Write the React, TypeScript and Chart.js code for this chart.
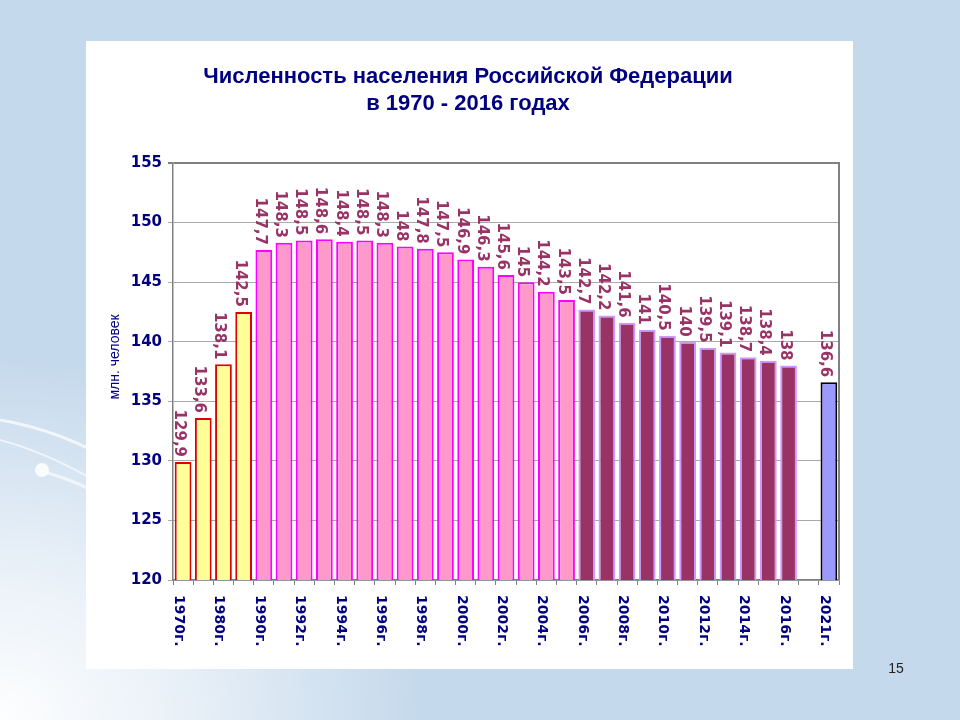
import React, { useEffect, useRef } from 'react';
import { Chart, registerables } from 'chart.js';

Chart.register(...registerables);

// ---- Data ----
const categories = [
  '1970г.', '1975г.', '1980г.', '1985г.',
  '1990г.', '1991г.', '1992г.', '1993г.', '1994г.', '1995г.', '1996г.', '1997г.',
  '1998г.', '1999г.', '2000г.', '2001г.', '2002г.', '2003г.', '2004г.', '2005г.',
  '2006г.', '2007г.', '2008г.', '2009г.', '2010г.', '2011г.', '2012г.', '2013г.',
  '2014г.', '2015г.', '2016г.', '', '2021г.',
];

const tickLabels = [
  '1970г.', '', '1980г.', '',
  '1990г.', '', '1992г.', '', '1994г.', '', '1996г.', '',
  '1998г.', '', '2000г.', '', '2002г.', '', '2004г.', '',
  '2006г.', '', '2008г.', '', '2010г.', '', '2012г.', '',
  '2014г.', '', '2016г.', '', '2021г.',
];

const population: (number | null)[] = [
  129.9, 133.6, 138.1, 142.5,
  147.7, 148.3, 148.5, 148.6, 148.4, 148.5, 148.3, 148.0,
  147.8, 147.5, 146.9, 146.3, 145.6, 145.0, 144.2, 143.5,
  142.7, 142.2, 141.6, 141.0, 140.5, 140.0, 139.5, 139.1,
  138.7, 138.4, 138.0, null, 136.6,
];

const periodGroup = [
  'soviet', 'soviet', 'soviet', 'soviet',
  'nineties', 'nineties', 'nineties', 'nineties', 'nineties', 'nineties', 'nineties', 'nineties',
  'nineties', 'nineties', 'nineties', 'nineties', 'nineties', 'nineties', 'nineties', 'nineties',
  'recent', 'recent', 'recent', 'recent', 'recent', 'recent', 'recent', 'recent',
  'recent', 'recent', 'recent', 'none', 'forecast',
];

const titleLines = ['Численность населения Российской Федерации', 'в 1970 - 2016 годах'];
const yAxisTitle = 'млн. человек';
const yMin = 120;
const yMax = 155;
const yStep = 5;

const groupFill: Record<string, string> = {
  soviet: '#FFFF99',
  nineties: '#FF99CC',
  recent: '#993366',
  forecast: '#9999FF',
  none: 'rgba(0,0,0,0)',
};
const groupBorder: Record<string, string> = {
  soviet: '#E00000',
  nineties: '#FF00FF',
  recent: '#CC99FF',
  forecast: '#000000',
  none: 'rgba(0,0,0,0)',
};

const fmt = (v: number) => (Number.isInteger(v) ? String(v) : v.toFixed(1).replace('.', ','));

const decorPlugin = {
  id: 'decor',
  afterDatasetsDraw(chart: any) {
    const ctx = chart.ctx as CanvasRenderingContext2D;
    const meta = chart.getDatasetMeta(0);
    ctx.save();
    ctx.font = 'bold 15px "DejaVu Sans"';
    ctx.fillStyle = '#993366';
    ctx.textAlign = 'right';
    ctx.textBaseline = 'alphabetic';
    meta.data.forEach((bar: any, i: number) => {
      const v = population[i];
      if (v == null) return;
      ctx.save();
      ctx.translate(bar.x, bar.y - 5);
      ctx.rotate(Math.PI / 2);
      ctx.fillText(fmt(v), 0, 8);
      ctx.restore();
    });
    ctx.restore();
  },
  afterDraw(chart: any) {
    const ctx = chart.ctx as CanvasRenderingContext2D;
    const area = chart.chartArea;
    const xScale = chart.scales.x;
    ctx.save();
    // right border of plot
    ctx.strokeStyle = '#808080';
    ctx.lineWidth = 2;
    ctx.beginPath();
    ctx.moveTo(area.right, area.top - 1);
    ctx.lineTo(area.right, area.bottom);
    ctx.stroke();

    // x tick labels, rotated clockwise
    ctx.font = 'bold 14px "DejaVu Sans"';
    ctx.fillStyle = '#000080';
    ctx.textAlign = 'left';
    ctx.textBaseline = 'alphabetic';
    tickLabels.forEach((lab, i) => {
      if (!lab) return;
      const x = xScale.getPixelForValue(i);
      ctx.save();
      ctx.translate(x, area.bottom + 15);
      ctx.rotate(Math.PI / 2);
      ctx.fillText(lab, 0, 8);
      ctx.restore();
    });

    // y axis title
    ctx.font = '14px "Liberation Sans"';
    ctx.fillStyle = '#000080';
    ctx.textAlign = 'center';
    ctx.textBaseline = 'middle';
    ctx.save();
    ctx.translate(115, 357);
    ctx.rotate(-Math.PI / 2);
    ctx.fillText(yAxisTitle, 0, 0);
    ctx.restore();

    // main title
    ctx.font = 'bold 22px "Liberation Sans"';
    ctx.fillStyle = '#000080';
    ctx.textAlign = 'center';
    ctx.textBaseline = 'alphabetic';
    ctx.fillText(titleLines[0], 468, 83);
    ctx.fillText(titleLines[1], 468, 110);
    ctx.restore();
  },
};

export default function App() {
  const canvasRef = useRef<HTMLCanvasElement | null>(null);

  useEffect(() => {
    if (!canvasRef.current) return;
    const chart = new Chart(canvasRef.current, {
      type: 'bar',
      data: {
        labels: categories,
        datasets: [
          {
            data: population,
            backgroundColor: periodGroup.map((g) => groupFill[g]),
            borderColor: periodGroup.map((g) => groupBorder[g]),
            borderWidth: 2,
            borderSkipped: false,
            barPercentage: 0.83,
            categoryPercentage: 1,
          } as any,
        ],
      },
      options: {
        responsive: false,
        animation: false,
        layout: { padding: { left: 86, right: 121, top: 163, bottom: 50 } },
        plugins: {
          legend: { display: false },
          title: { display: false },
          tooltip: { enabled: false },
        },
        scales: {
          x: {
            ticks: { display: false },
            grid: {
              drawOnChartArea: false,
              drawTicks: true,
              tickLength: 5,
              color: '#808080',
              offset: true,
            },
            border: { color: '#808080', width: 1.5 },
            afterFit(scale: any) {
              scale.height = 90;
            },
          },
          y: {
            min: yMin,
            max: yMax,
            ticks: {
              stepSize: yStep,
              font: { family: 'DejaVu Sans', size: 15, weight: 'bold' },
              color: '#000080',
              padding: 6,
            },
            grid: {
              color: (c: any) => (c.tick && c.tick.value === yMax ? '#808080' : '#AAAAAA'),
              lineWidth: (c: any) => (c.tick && c.tick.value === yMax ? 2 : 1),
              tickLength: 5,
            },
            border: { color: '#808080', width: 1.5 },
            afterFit(scale: any) {
              scale.width = 87;
            },
          },
        },
      } as any,
      plugins: [decorPlugin],
    });
    return () => chart.destroy();
  }, []);

  return (
    <div
      style={{
        position: 'fixed',
        left: 0,
        top: 0,
        width: 960,
        height: 720,
        overflow: 'hidden',
        background:
          'radial-gradient(ellipse 420px 360px at 0% 100%, rgba(255,255,255,0.98) 0%, rgba(255,255,255,0.6) 45%, rgba(255,255,255,0) 100%), #C5D9EC',
      }}
    >
      <svg width={960} height={720} style={{ position: 'absolute', left: 0, top: 0 }}>
        <path d="M0,420 Q60,430 120,465" stroke="rgba(255,255,255,0.7)" strokeWidth={3} fill="none" />
        <path d="M0,440 Q55,455 110,490" stroke="rgba(255,255,255,0.6)" strokeWidth={2} fill="none" />
        <path d="M45,472 Q80,482 110,500" stroke="rgba(255,255,255,0.6)" strokeWidth={3} fill="none" />
        <circle cx={42} cy={470} r={7} fill="rgba(255,255,255,0.85)" />
      </svg>
      <div
        style={{ position: 'absolute', left: 86, top: 41, width: 767, height: 628, background: '#FFFFFF' }}
      />
      <canvas
        ref={canvasRef}
        width={960}
        height={720}
        style={{ position: 'absolute', left: 0, top: 0, width: 960, height: 720 }}
      />
      <div
        style={{
          position: 'absolute',
          left: 884,
          top: 660,
          width: 24,
          textAlign: 'center',
          font: '14px "Liberation Sans"',
          color: '#222222',
        }}
      >
        15
      </div>
    </div>
  );
}
